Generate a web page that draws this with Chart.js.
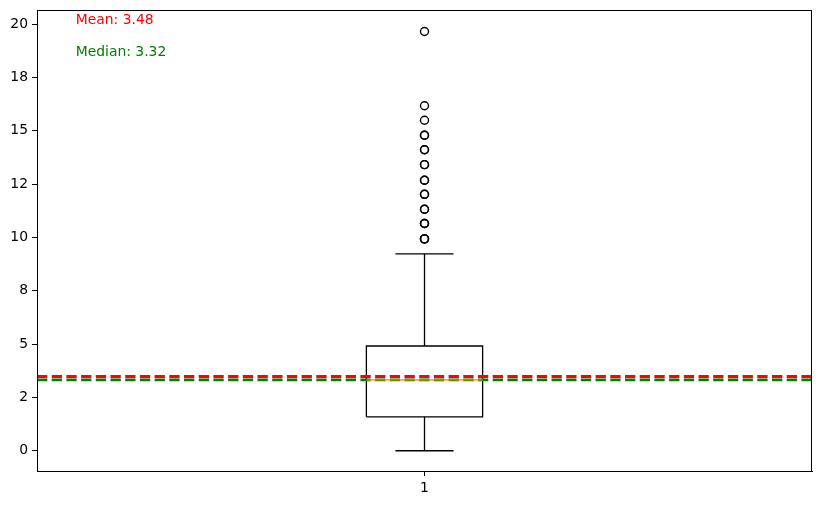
<!DOCTYPE html>
<html>
<head>
<meta charset="utf-8">
<script src="https://cdn.jsdelivr.net/npm/chart.js@4"></script>
<style>
html,body{margin:0;padding:0;background:#fff;}
#wrap{width:822px;height:505px;}
</style>
</head>
<body>
<div id="wrap"><canvas id="c" width="822" height="505"></canvas></div>
<script>
// ---- data ----
const categories = ['1'];
const positions = [1];
const whiskerLow = [0.0];
const q1 = [1.59];
const medians = [3.32];
const q3 = [4.91];
const whiskerHigh = [9.23];
// repeated values reproduce the overlapping (bolder) circles
const outliers = [9.93, 9.93, 9.93, 10.65, 10.65, 10.65, 11.32, 11.32, 12.02, 12.02, 12.68, 12.68, 13.41, 13.41, 14.11, 14.11, 14.79, 14.79, 15.49, 16.17, 19.65];
const meanValue = [3.48];
const medianValue = [3.32];
const yTickValues = [0, 2.5, 5, 7.5, 10, 12.5, 15, 17.5, 20];
const yTickLabels = ['0', '2', '5', '8', '10', '12', '15', '18', '20'];
const annotationTexts = ['Mean: 3.48', 'Median: 3.32'];

// ---- build datasets ----
const boxHalf = 0.075, capHalf = 0.0375;
const xMin = 0.5, xMax = 1.5;
const datasets = [];
const p = positions[0];

// mean / median reference lines
datasets.push({data:[{x:xMin,y:meanValue[0]},{x:xMax,y:meanValue[0]}], borderColor:'#ff0000', borderWidth:2.8, borderDash:[10.3,4.4], order:2});
datasets.push({data:[{x:xMin,y:medianValue[0]},{x:xMax,y:medianValue[0]}], borderColor:'#008000', borderWidth:2.8, borderDash:[10.3,4.4], order:1});

// box
datasets.push({data:[{x:p-boxHalf,y:q1[0]},{x:p+boxHalf,y:q1[0]},{x:p+boxHalf,y:q3[0]},{x:p-boxHalf,y:q3[0]},{x:p-boxHalf,y:q1[0]}], borderColor:'#000', borderWidth:1.3, order:3});
// whiskers
datasets.push({data:[{x:p,y:q1[0]},{x:p,y:whiskerLow[0]}], borderColor:'#000', borderWidth:1.3, order:3});
datasets.push({data:[{x:p,y:q3[0]},{x:p,y:whiskerHigh[0]}], borderColor:'#000', borderWidth:1.3, order:3});
// caps
datasets.push({data:[{x:p-capHalf,y:whiskerLow[0]},{x:p+capHalf,y:whiskerLow[0]}], borderColor:'#000', borderWidth:1.3, order:3});
datasets.push({data:[{x:p-capHalf,y:whiskerHigh[0]},{x:p+capHalf,y:whiskerHigh[0]}], borderColor:'#000', borderWidth:1.3, order:3});
// median in box
datasets.push({data:[{x:p-boxHalf,y:medians[0]},{x:p+boxHalf,y:medians[0]}], borderColor:'#ff7f0e', borderWidth:1.3, order:0});
// line datasets: no points
datasets.forEach(d=>{d.showLine=true; d.pointRadius=0; d.fill=false; d.tension=0;});
// outliers
datasets.push({data:outliers.map(v=>({x:p,y:v})), showLine:false, pointRadius:4, pointBorderColor:'#000', pointBackgroundColor:'rgba(0,0,0,0)', pointBorderWidth:1.4, order:0});

const frame = {
  id:'frame',
  afterDatasetsDraw(chart){
    const {ctx, chartArea:a} = chart;
    ctx.save();
    ctx.strokeStyle='#000'; ctx.lineWidth=1;
    ctx.strokeRect(Math.round(a.left)+0.5, Math.round(a.top)+0.5, Math.round(a.right-a.left)-1, Math.round(a.bottom-a.top));
    ctx.font='13.9px "DejaVu Sans"';
    ctx.textAlign='left'; ctx.textBaseline='alphabetic';
    const tx = a.left + 0.05*(a.right-a.left);
    ctx.fillStyle='#ff0000'; ctx.fillText(annotationTexts[0], tx, 24);
    ctx.fillStyle='#008000'; ctx.fillText(annotationTexts[1], tx, 56);
    ctx.restore();
  }
};

new Chart(document.getElementById('c'), {
  type:'scatter',
  data:{datasets},
  options:{
    responsive:false, animation:false,
    layout:{padding:{left:0,right:10,top:10,bottom:0}},
    plugins:{legend:{display:false}, tooltip:{enabled:false}},
    scales:{
      x:{type:'linear', min:xMin, max:xMax,
         afterBuildTicks(s){ s.ticks = positions.map(v=>({value:v})); },
         afterFit(s){ s.height = 34; s.paddingLeft = 0; s.paddingRight = 0; },
         ticks:{callback:(v)=>categories[positions.indexOf(v)] ?? '', color:'#000', font:{family:'DejaVu Sans', size:13.9}, padding:4, maxRotation:0},
         grid:{display:true, drawOnChartArea:false, drawTicks:true, tickLength:5, color:'#000', tickWidth:1},
         border:{display:true, color:'#000', width:1}
      },
      y:{type:'linear', min:-0.95, max:20.66,
         afterBuildTicks(s){ s.ticks = yTickValues.map(v=>({value:v})); },
         afterFit(s){ s.width = 37; s.paddingTop = 0; s.paddingBottom = 0; },
         ticks:{callback:(v)=>yTickLabels[yTickValues.indexOf(v)] ?? '', color:'#000', font:{family:'DejaVu Sans', size:13.9}, padding:4},
         grid:{display:true, drawOnChartArea:false, drawTicks:true, tickLength:5, color:'#000', tickWidth:1},
         border:{display:true, color:'#000', width:1}
      }
    }
  },
  plugins:[frame]
});
</script>
</body>
</html>
